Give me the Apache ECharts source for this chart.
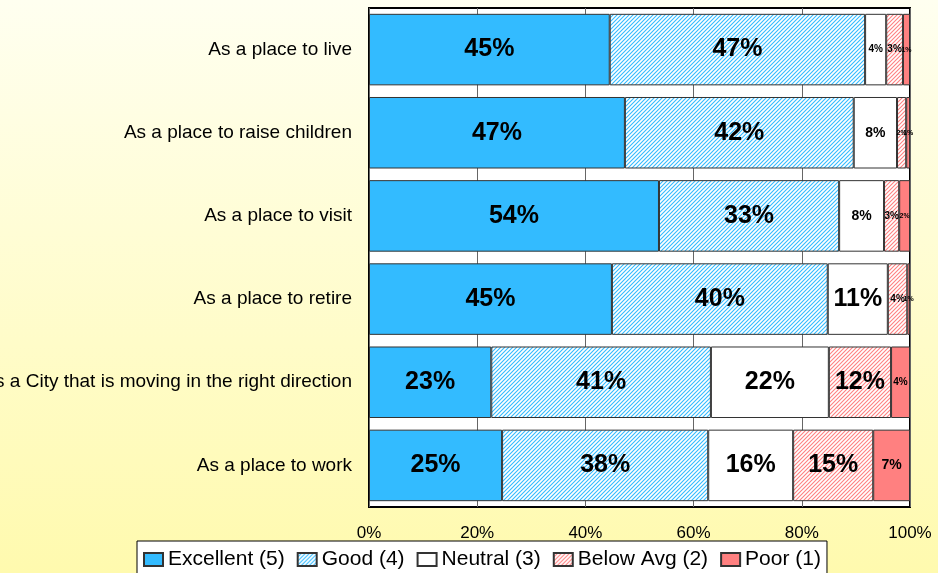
<!DOCTYPE html>
<html>
<head>
<meta charset="utf-8">
<script src="https://cdn.jsdelivr.net/npm/echarts@6/dist/echarts.min.js"></script>
<style>
  html, body { margin: 0; padding: 0; }
  #chart { width: 938px; height: 573px; }
</style>
</head>
<body>
<div id="chart"></div>
<script>
// categories top to bottom
const categories = [
  'As a place to live',
  'As a place to raise children',
  'As a place to visit',
  'As a place to retire',
  'As a City that is moving in the right direction',
  'As a place to work'
];
const seriesNames = ['Excellent (5)', 'Good (4)', 'Neutral (3)', 'Below Avg (2)', 'Poor (1)'];
// percent of respondents
const excellent = [44.5, 47.3, 53.6, 44.9, 22.6, 24.6];
const good      = [47.2, 42.3, 33.3, 39.9, 40.6, 38.1];
const neutral   = [3.9, 8.0, 8.3, 11.1, 21.8, 15.7];
const belowAvg  = [3.1, 1.7, 2.8, 3.6, 11.5, 14.8];
const poor      = [1.3, 0.7, 2.0, 0.5, 3.5, 6.8];
const xTicks = [0, 20, 40, 60, 80, 100];

function hatch(stripe) {
  const c = document.createElement('canvas');
  c.width = 4; c.height = 4;
  const g = c.getContext('2d');
  g.fillStyle = '#fff';
  g.fillRect(0, 0, 4, 4);
  g.strokeStyle = stripe;
  g.lineWidth = 1.1;
  g.beginPath();
  g.moveTo(-1, 5); g.lineTo(5, -1);
  g.moveTo(-1, 1); g.lineTo(1, -1);
  g.moveTo(3, 5); g.lineTo(5, 3);
  g.stroke();
  return { image: c, repeat: 'repeat' };
}

const fills = ['#33BBFF', hatch('#33BBFF'), '#FFFFFF', hatch('#FF8080'), '#FF8080'];
const values = [excellent, good, neutral, belowAvg, poor];
const font = 'Liberation Sans, Arial, sans-serif';

function labelSize(v) {
  if (v >= 10) return 25;
  if (v >= 6) return 14;
  if (v >= 2.5) return 10;
  return 7;
}

const series = seriesNames.map((name, i) => ({
  name: name,
  type: 'bar',
  stack: 'total',
  barCategoryGap: '14%',
  data: values[i].map(v => ({
    value: v,
    label: { fontSize: labelSize(v) }
  })),
  itemStyle: { color: fills[i], borderColor: '#333', borderWidth: 1 },
  label: {
    show: true,
    position: 'inside',
    color: '#000',
    fontWeight: 'bold',
    fontFamily: font,
    formatter: p => Math.round(p.value) + '%'
  },
  emphasis: { disabled: true }
}));

const chart = echarts.init(document.getElementById('chart'));
chart.setOption({
  animation: false,
  backgroundColor: new echarts.graphic.LinearGradient(0, 0, 0, 1, [
    { offset: 0, color: '#FFFFF0' },
    { offset: 1, color: '#FFFAAE' }
  ]),
  grid: {
    left: 369, right: 28, top: 8, bottom: 66,
    containLabel: false,
    outerBoundsMode: 'none',
    show: true, backgroundColor: '#fff', borderColor: '#000', borderWidth: 2
  },
  legend: {
    data: seriesNames,
    left: 137, top: 541,
    icon: 'rect',
    itemWidth: 19, itemHeight: 13,
    itemGap: 12,
    padding: [8, 6, 10, 6],
    backgroundColor: '#fff',
    borderColor: '#000',
    borderWidth: 1,
    borderRadius: 0,
    textStyle: { fontSize: 21, color: '#000', fontFamily: font }
  },
  xAxis: {
    type: 'value',
    min: 0, max: 100, interval: 20,
    axisLine: { show: false },
    axisTick: { show: false },
    splitLine: { show: true, lineStyle: { color: '#666', width: 1 } },
    axisLabel: {
      margin: 18,
      fontSize: 17, color: '#000', fontFamily: font,
      formatter: v => xTicks.includes(v) ? v + '%' : ''
    }
  },
  yAxis: {
    type: 'category',
    data: categories,
    inverse: true,
    axisLine: { show: false },
    axisTick: { show: false },
    axisLabel: { margin: 17, fontSize: 19, color: '#000', fontFamily: font }
  },
  series: series
});
</script>
</body>
</html>
